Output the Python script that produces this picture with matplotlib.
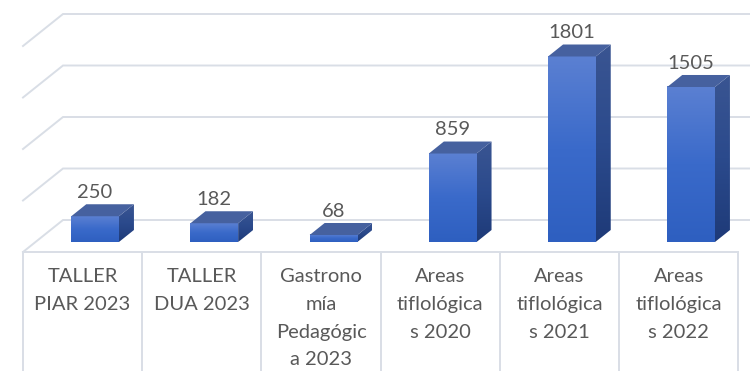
import numpy as np
import matplotlib
matplotlib.use("Agg")
import matplotlib.pyplot as plt
from matplotlib.patches import Polygon
from matplotlib.colors import LinearSegmentedColormap

categories = ["TALLER\nPIAR 2023", "TALLER\nDUA 2023", "Gastrono\nmía\nPedagógic\na 2023",
              "Areas\ntiflológica\ns 2020", "Areas\ntiflológica\ns 2021", "Areas\ntiflológica\ns 2022"]
values = [250, 182, 68, 859, 1801, 1505]
grid_values = [0, 500, 1000, 1500, 2000]

plt.rcParams['font.family'] = ['Lato', 'DejaVu Sans']
TEXT = '#595959'
GRID = '#D9DEE6'

# pixel scale of the oblique 3d view
PX_X = 119.2     # px per category
PX_Y = 0.103     # px per value unit
W, H = 750, 371
X0_PX, Y0_PX = 23, 252   # front-left corner of the floor


def depth(f):
    # offset in data units for a fraction f of the floor depth
    return f * 40 / PX_X, f * 32 / PX_Y


fig = plt.figure(figsize=(W / 100, H / 100), dpi=100)
ax = fig.add_axes([0, 0, 1, 1])
ax.axis('off')

n = len(categories)
bdx, bdy = depth(1.0)

# back wall gridlines and their diagonals on the side wall
for g in grid_values:
    ax.plot([0, bdx, n + bdx], [g, g + bdy, g + bdy], color=GRID, lw=1.4, zorder=1,
            solid_joinstyle='miter')

# floor front edge and category dividers
ylow = (Y0_PX - H) / PX_Y
ax.plot([0, n], [0, 0], color=GRID, lw=1.4, zorder=1)
for i in range(n + 1):
    ax.plot([i, i], [0, ylow], color=GRID, lw=1.4, zorder=1)

front_cmap = LinearSegmentedColormap.from_list('front', ['#2E5FC0', '#3A6ACA', '#5B80D2'])
side_cmap = LinearSegmentedColormap.from_list('side', ['#1E3A78', '#2B4A8C', '#3A5592'])
top_color = '#46619F'

bar_w = 0.40
fdx, fdy = depth(10 / 32)
kdx, kdy = depth(22 / 32)
ddx, ddy = kdx - fdx, kdy - fdy
grad = np.linspace(0, 1, 256).reshape(-1, 1)

for i, v in enumerate(values):
    x0 = i + 0.5 - bar_w / 2 + fdx
    y0 = fdy
    # right side face
    side = Polygon([(x0 + bar_w, y0), (x0 + bar_w + ddx, y0 + ddy),
                    (x0 + bar_w + ddx, y0 + v + ddy), (x0 + bar_w, y0 + v)],
                   closed=True, facecolor='none', edgecolor='none')
    ax.add_patch(side)
    im = ax.imshow(grad, cmap=side_cmap, origin='lower', aspect='auto', zorder=2,
                   extent=(x0 + bar_w, x0 + bar_w + ddx, y0, y0 + v + ddy))
    im.set_clip_path(side)
    # front face
    ax.imshow(grad, cmap=front_cmap, origin='lower', aspect='auto', zorder=3,
              extent=(x0, x0 + bar_w, y0, y0 + v))
    # top face
    top = Polygon([(x0, y0 + v), (x0 + bar_w, y0 + v), (x0 + bar_w + ddx, y0 + v + ddy),
                   (x0 + ddx, y0 + v + ddy)], closed=True, facecolor=top_color,
                  edgecolor='none', zorder=4)
    ax.add_patch(top)
    ax.text(i + 0.5 + fdx, v + kdy + 30, str(v), ha='center', va='bottom',
            fontsize=14.5, color=TEXT)

for i, c in enumerate(categories):
    ax.text(i + 0.5, -160, c, ha='center', va='top', fontsize=14.5, color=TEXT,
            linespacing=1.76)

ax.set_xlim(-X0_PX / PX_X, (W - X0_PX) / PX_X)
ax.set_ylim(ylow, Y0_PX / PX_Y)

fig.savefig('out.png', dpi=100)
